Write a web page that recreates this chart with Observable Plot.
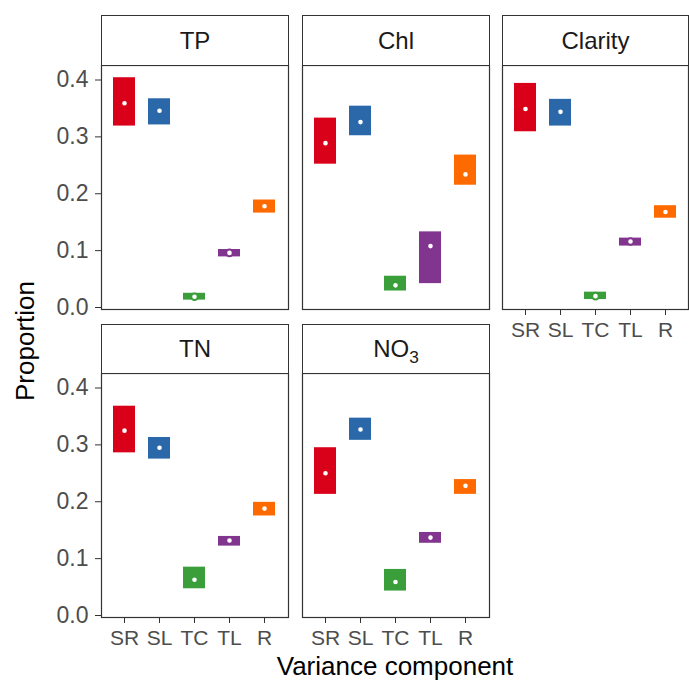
<!DOCTYPE html>
<html>
<head>
<meta charset="utf-8">
<script src="https://cdn.jsdelivr.net/npm/d3@7"></script>
<script src="https://cdn.jsdelivr.net/npm/@observablehq/plot@0.6"></script>
<style>
  body { margin: 0; background: #fff; font-family: "Liberation Sans", Arial, Helvetica, sans-serif; }
  #chart { position: relative; width: 689px; height: 681px; overflow: hidden; background: #fff; }
  .strip { position: absolute; box-sizing: border-box; border: 1px solid #333; background: #fff;
           color: #1a1a1a; font-size: 24px; display: flex; align-items: center; justify-content: center; }
  .panel { position: absolute; }
  .title { position: absolute; color: #000; font-size: 26px; white-space: nowrap; }
  .sub { font-size: 0.72em; position: relative; top: 0.35em; }
</style>
</head>
<body>
<div id="chart"></div>
<script>
// ---- data ----
const components = ["SR", "SL", "TC", "TL", "R"];
const variables = ["TP", "Chl", "Clarity", "TN", "NO3"];
const colors = ["#D90019", "#2B68AA", "#3A9E3A", "#82358F", "#FF6A00"];
const yTicks = [0, 0.1, 0.2, 0.3, 0.4];

const tpMean  = [0.359, 0.346, 0.019, 0.096, 0.178];
const tpLower = [0.319, 0.321, 0.013, 0.089, 0.166];
const tpUpper = [0.404, 0.367, 0.025, 0.102, 0.189];

const chlMean  = [0.289, 0.326, 0.039, 0.108, 0.234];
const chlLower = [0.252, 0.302, 0.029, 0.042, 0.215];
const chlUpper = [0.333, 0.354, 0.055, 0.133, 0.268];

const clarityMean  = [0.349, 0.344, 0.020, 0.116, 0.168];
const clarityLower = [0.309, 0.319, 0.014, 0.108, 0.157];
const clarityUpper = [0.394, 0.366, 0.027, 0.122, 0.179];

const tnMean  = [0.325, 0.295, 0.063, 0.132, 0.188];
const tnLower = [0.286, 0.275, 0.047, 0.122, 0.175];
const tnUpper = [0.368, 0.313, 0.085, 0.139, 0.199];

const no3Mean  = [0.250, 0.327, 0.059, 0.137, 0.228];
const no3Lower = [0.213, 0.308, 0.043, 0.127, 0.213];
const no3Upper = [0.295, 0.347, 0.081, 0.146, 0.239];

const seriesByVar = {
  TP: [tpLower, tpMean, tpUpper],
  Chl: [chlLower, chlMean, chlUpper],
  Clarity: [clarityLower, clarityMean, clarityUpper],
  TN: [tnLower, tnMean, tnUpper],
  NO3: [no3Lower, no3Mean, no3Upper]
};

// ---- layout ----
const chart = document.getElementById("chart");
const colX = [101, 302, 502];
const panelW = [187, 187, 186];
const stripTop = [15, 324];
const plotTop = [65, 373];
const plotH = 244;
const mL = 60, mR = 4, mT = 4, mB = 50;
const font = "'Liberation Sans', Arial, Helvetica, sans-serif";

variables.forEach((v, i) => {
  const col = i % 3, row = Math.floor(i / 3);
  const W = panelW[col];
  const [lo, me, up] = seriesByVar[v];
  const data = components.map((c, j) => ({component: c, lower: lo[j], mean: me[j], upper: up[j]}));
  const showY = col === 0;
  const showX = row === 1 || col === 2;

  // strip
  const strip = document.createElement("div");
  strip.className = "strip";
  strip.style.left = colX[col] + "px";
  strip.style.top = stripTop[row] + "px";
  strip.style.width = W + 1 + "px";
  strip.style.height = (plotTop[row] - stripTop[row] + 1) + "px";
  const label = document.createElement("span");
  if (v === "NO3") {
    label.append("NO");
    const s = document.createElement("span");
    s.className = "sub";
    s.textContent = "3";
    label.append(s);
  } else {
    label.textContent = v;
  }
  strip.appendChild(label);

  const marks = [
    Plot.barY(data, {x: "component", y1: "lower", y2: "upper", fill: "component"}),
    Plot.dot(data, {x: "component", y: "mean", r: 3.3, fill: "white", stroke: "component", strokeWidth: 2.0}),
    Plot.frame({stroke: "#333", strokeWidth: 1.2})
  ];
  if (showY) marks.push(Plot.axisY({ticks: yTicks, tickFormat: d3.format(".1f"), tickSize: 6, tickPadding: 7,
    fontSize: 23, stroke: "#333", fill: "#4d4d4d", label: null}));
  if (showX) marks.push(Plot.axisX({tickSize: 6, tickPadding: 7, fontSize: 21, stroke: "#333", fill: "#4d4d4d", label: null}));

  const svg = Plot.plot({
    width: mL + W + mR,
    height: mT + plotH + mB,
    marginLeft: mL, marginRight: mR, marginTop: mT, marginBottom: mB,
    x: {type: "band", domain: components, paddingInner: 0.36, paddingOuter: 0.28, axis: showX ? undefined : null},
    y: {domain: [-0.0035, 0.4255], axis: showY ? undefined : null},
    color: {domain: components, range: colors},
    style: {background: "transparent", overflow: "visible", fontFamily: font},
    marks
  });
  svg.classList.add("panel");
  svg.style.left = (colX[col] - mL) + "px";
  svg.style.top = (plotTop[row] - mT) + "px";
  svg.style.maxWidth = "none";
  chart.appendChild(svg);
  chart.appendChild(strip);
});

// axis titles
const yTitle = document.createElement("div");
yTitle.className = "title";
yTitle.textContent = "Proportion";
yTitle.style.left = "25px";
yTitle.style.top = "341px";
yTitle.style.transform = "translate(-50%, -50%) rotate(-90deg)";
chart.appendChild(yTitle);

const xTitle = document.createElement("div");
xTitle.className = "title";
xTitle.textContent = "Variance component";
xTitle.style.left = "395px";
xTitle.style.top = "666px";
xTitle.style.transform = "translate(-50%, -50%)";
chart.appendChild(xTitle);
</script>
</body>
</html>
